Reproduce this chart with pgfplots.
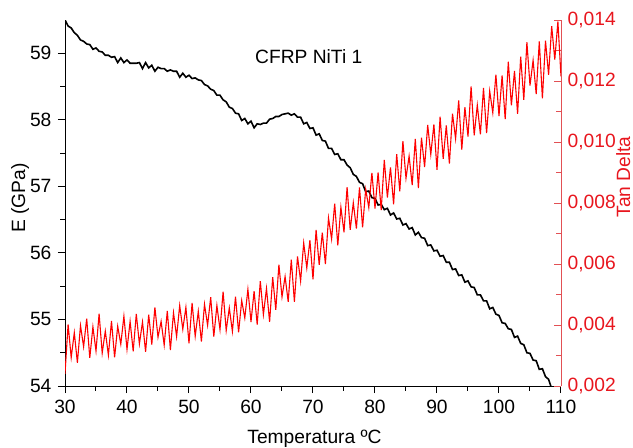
\documentclass[border=0pt]{standalone}
\usepackage{pgfplots}
\pgfplotsset{compat=1.18}
\usepackage{fontspec}
\setmainfont{Liberation Sans}
\definecolor{tdred}{RGB}{232,22,30}
\definecolor{tdaxis}{RGB}{226,80,84}
\definecolor{curvered}{RGB}{255,0,0}
\newcommand{\ff}{\fontsize{19.3}{23}\selectfont}
\begin{document}
\ff
\begin{tikzpicture}
\begin{axis}[
  scale only axis, width=496bp, height=366bp,
  xmin=30, xmax=110, ymin=54, ymax=59.5,
  axis x line*=bottom, axis y line*=left,
  axis line style={-, line width=1bp, black},
  xtick={30,40,...,110}, minor x tick num=1,
  ytick={54,55,...,59}, minor y tick num=1,
  tick align=outside,
  major tick length=7bp, minor tick length=4.5bp,
  tick style={line width=1bp, black},
  /pgf/number format/assume math mode=true,
  tick label style={font=\ff},
  label style={font=\ff},
  xlabel={Temperatura ºC},
  xlabel style={at={(axis description cs:0.503,0)}, anchor=base, yshift=-57.6bp},
  ylabel={E (GPa)},
  ylabel style={at={(axis description cs:-0.0806,0.514)}, anchor=base},
  clip=true,
]
\addplot[black, line width=1.6bp] coordinates {
(30,59.50) (30.5,59.41) (31,59.38) (31.5,59.31) (32,59.27) (32.5,59.20) (33,59.18) (33.5,59.14)
(34,59.13) (34.5,59.06) (35,59.08) (35.5,59.03) (36,59.02) (36.5,58.97) (37,58.97) (37.5,58.94)
(38,58.95) (38.5,58.86) (39,58.93) (39.5,58.86) (40,58.90) (40.5,58.85) (41,58.85) (41.5,58.85)
(42,58.86) (42.5,58.77) (43,58.86) (43.5,58.78) (44,58.82) (44.5,58.73) (45,58.79) (45.5,58.77)
(46,58.77) (46.5,58.73) (47,58.75) (47.5,58.73) (48,58.73) (48.5,58.64) (49,58.70) (49.5,58.64)
(50,58.67) (50.5,58.62) (51,58.63) (51.5,58.60) (52,58.59) (52.5,58.53) (53,58.51) (53.5,58.46)
(54,58.44) (54.5,58.37) (55,58.37) (55.5,58.30) (56,58.27) (56.5,58.19) (57,58.17) (57.5,58.10)
(58,58.09) (58.5,57.99) (59,58.02) (59.5,57.94) (60,57.98) (60.5,57.88) (61,57.94) (61.5,57.93)
(62,57.95) (62.5,57.95) (63,58.01) (63.5,58.02) (64,58.05) (64.5,58.05) (65,58.08) (65.5,58.09)
(66,58.10) (66.5,58.07) (67,58.09) (67.5,58.04) (68,58.04) (68.5,57.94) (69,57.96) (69.5,57.87)
(70,57.88) (70.5,57.77) (71,57.79) (71.5,57.69) (72,57.68) (72.5,57.57) (73,57.57) (73.5,57.48)
(74,57.49) (74.5,57.40) (75,57.40) (75.5,57.32) (76,57.28) (76.5,57.18) (77,57.15) (77.5,57.06)
(78,57.04) (78.5,56.92) (79,56.93) (79.5,56.83) (80,56.82) (80.5,56.72) (81,56.73) (81.5,56.65)
(82,56.67) (82.5,56.57) (83,56.60) (83.5,56.51) (84,56.52) (84.5,56.42) (85,56.44) (85.5,56.36)
(86,56.38) (86.5,56.27) (87,56.31) (87.5,56.23) (88,56.22) (88.5,56.11) (89,56.12) (89.5,56.03)
(90,56.04) (90.5,55.95) (91,55.96) (91.5,55.86) (92,55.86) (92.5,55.75) (93,55.76) (93.5,55.66)
(94,55.67) (94.5,55.56) (95,55.58) (95.5,55.49) (96,55.48) (96.5,55.37) (97,55.37) (97.5,55.28)
(98,55.28) (98.5,55.16) (99,55.18) (99.5,55.08) (100,55.06) (100.5,54.95) (101,54.94) (101.5,54.86)
(102,54.85) (102.5,54.73) (103,54.75) (103.5,54.64) (104,54.62) (104.5,54.50) (105,54.49) (105.5,54.39)
(106,54.38) (106.5,54.25) (107,54.26) (107.5,54.14) (108,54.10) (108.5,53.96)
};
\node[anchor=base west, inner sep=0pt, font=\ff] at (rel axis cs:0.383,0.8817) {CFRP NiTi 1};
\node[anchor=base, inner sep=0pt, font=\ff] at (rel axis cs:0.504,1.057) {(a)};
\end{axis}
\begin{axis}[
  scale only axis, width=496bp, height=366bp,
  xmin=30, xmax=110, ymin=20, ymax=140,
  axis x line=none, axis y line*=right,
  axis line style={-, line width=0.8bp, tdaxis},
  ytick={20,40,...,140},
  yticklabels={{0,002},{0,004},{0,006},{0,008},{0,010},{0,012},{0,014}},
  minor y tick num=1,
  tick align=inside,
  major tick length=7bp, minor tick length=4.5bp,
  tick style={line width=0.8bp, tdaxis},
  tick label style={font=\ff, text=tdred},
  ylabel={Tan Delta},
  ylabel style={at={(axis description cs:1.1393,0.571)}, anchor=base, text=tdred, font=\ff},
]
\addplot[curvered, line width=1.1bp] coordinates {
(30.0,24.0) (30.5,40.2) (31.0,29.3) (31.5,37.5) (32.0,27.6) (32.5,39.8) (33.0,32.9) (33.5,42.1)
(34.0,29.2) (34.5,39.4) (35.0,31.5) (35.5,43.7) (36.0,30.8) (36.5,38.0) (37.0,30.1) (37.5,41.3)
(38.0,29.4) (38.5,39.6) (39.0,33.7) (39.5,42.9) (40.0,32.0) (40.5,41.2) (41.0,31.4) (41.5,43.6)
(42.0,33.8) (42.5,41.0) (43.0,31.2) (43.5,43.4) (44.0,33.6) (44.5,45.8) (45.0,36.0) (45.5,41.2)
(46.0,33.4) (46.5,44.6) (47.0,31.8) (47.5,44.0) (48.0,36.2) (48.5,46.4) (49.0,38.6) (49.5,45.8)
(50.0,34.0) (50.5,47.2) (51.0,36.3) (51.5,44.5) (52.0,34.6) (52.5,46.8) (53.0,39.9) (53.5,49.1)
(54.0,36.2) (54.5,46.4) (55.0,38.5) (55.5,50.9) (56.0,38.2) (56.5,45.6) (57.0,37.9) (57.5,49.3)
(58.0,37.6) (58.5,48.0) (59.0,42.3) (59.5,51.7) (60.0,41.0) (60.5,51.1) (61.0,40.1) (61.5,54.4)
(62.0,43.4) (62.5,52.0) (63.0,41.0) (63.5,55.7) (64.0,45.0) (64.5,59.8) (65.0,49.2) (65.5,55.9)
(66.0,47.6) (66.5,61.4) (67.0,47.6) (67.5,62.5) (68.0,54.4) (68.5,66.9) (69.0,58.7) (69.5,67.8)
(70.0,55.0) (70.5,71.2) (71.0,59.7) (71.5,70.3) (72.0,60.0) (72.5,75.1) (73.0,68.2) (73.5,79.8)
(74.0,66.1) (74.5,78.6) (75.0,70.4) (75.5,85.2) (76.0,71.2) (76.5,80.1) (77.0,71.6) (77.5,85.1)
(78.0,72.0) (78.5,84.5) (79.0,78.5) (79.5,89.9) (80.0,78.2) (80.5,90.0) (81.0,77.7) (81.5,94.1)
(82.0,81.8) (82.5,91.7) (83.0,79.6) (83.5,96.0) (84.0,83.8) (84.5,100.3) (85.0,88.1) (85.5,95.4)
(86.0,85.9) (86.5,101.0) (87.0,84.9) (87.5,101.4) (88.0,91.8) (88.5,105.6) (89.0,95.9) (89.5,105.8)
(90.0,90.9) (90.5,108.3) (91.0,94.5) (91.5,105.4) (92.0,92.9) (92.5,109.3) (93.0,101.1) (93.5,113.6)
(94.0,97.5) (94.5,111.4) (95.0,101.8) (95.5,118.2) (96.0,102.2) (96.5,112.1) (97.0,102.5) (97.5,117.7)
(98.0,102.9) (98.5,116.7) (99.0,109.6) (99.5,122.1) (100.0,108.5) (100.5,121.8) (101.0,107.5) (101.5,126.3)
(102.0,112.0) (102.5,123.3) (103.0,109.2) (103.5,128.0) (104.0,113.8) (104.5,132.7) (105.0,118.5) (105.5,126.8)
(106.0,115.7) (106.5,133.0) (107.0,114.3) (107.5,133.2) (108.0,122.0) (108.5,138.0) (109.0,127.0) (109.5,139.5)
(110.0,121.5)
};
\end{axis}
\pgfresetboundingbox
\path (-65bp,-62bp) rectangle (568bp,386bp);
\end{tikzpicture}
\end{document}
